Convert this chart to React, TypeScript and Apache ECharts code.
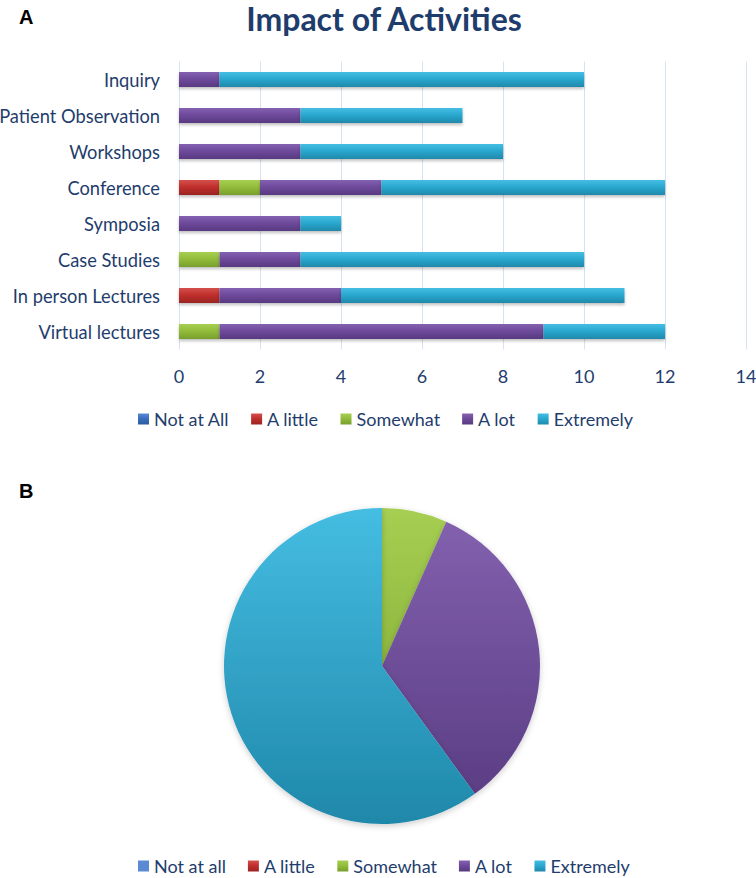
import React, { useEffect, useRef } from "react";
import * as echarts from "echarts";

const categories = [
  "Inquiry",
  "Patient Observation",
  "Workshops",
  "Conference",
  "Symposia",
  "Case Studies",
  "In person Lectures",
  "Virtual lectures",
];
const barSeriesNames = ["Not at All", "A little", "Somewhat", "A lot", "Extremely"];
const notAtAll = [0, 0, 0, 0, 0, 0, 0, 0];
const aLittle = [0, 0, 0, 1, 0, 0, 1, 0];
const somewhat = [0, 0, 0, 1, 0, 1, 0, 1];
const aLot = [1, 3, 3, 3, 3, 2, 3, 8];
const extremely = [9, 4, 5, 7, 1, 7, 7, 3];
const xTicks = [0, 2, 4, 6, 8, 10, 12, 14];

const pieNames = ["Not at all", "A little", "Somewhat", "A lot", "Extremely"];
const pieValues = [0, 0, 2, 10, 18];

const baseColors = ["#3a6fbf", "#c1302d", "#93bd3c", "#6f4a9c", "#2aa9d0"];
const lightColors = ["#5a8ad3", "#d4504c", "#a6cf52", "#8462b0", "#45bde2"];
const darkColors = ["#2c5a9e", "#9a2422", "#779f2c", "#573a80", "#1f88aa"];

const FONT = "Lato";
const TEXT_COLOR = "#1f3d6c";

export default function App() {
  const ref = useRef<HTMLDivElement>(null);
  useEffect(() => {
    if (!ref.current) return;
    const chart = echarts.init(ref.current, undefined, { renderer: "svg" });
    const barData = [notAtAll, aLittle, somewhat, aLot, extremely];
    const barGradient = (i: number) =>
      new echarts.graphic.LinearGradient(0, 0, 0, 1, [
        { offset: 0, color: lightColors[i] },
        { offset: 0.45, color: baseColors[i] },
        { offset: 1, color: darkColors[i] },
      ]);
    const pieGradient = (i: number) =>
      new echarts.graphic.LinearGradient(
        0,
        508,
        0,
        824,
        [
          { offset: 0, color: lightColors[i] },
          { offset: 1, color: darkColors[i] },
        ],
        true
      );
    const barSeries = barSeriesNames.map((name, i) => ({
      name,
      type: "bar",
      stack: "total",
      barWidth: 15,
      data: barData[i],
      itemStyle: {
        color: barGradient(i),
        shadowBlur: 3,
        shadowOffsetY: 2,
        shadowColor: "rgba(0,0,0,0.25)",
      },
      emphasis: { disabled: true },
    }));
    const legendCommon = {
      itemWidth: 11,
      itemHeight: 11,
      itemGap: 22,
      padding: 0,
      icon: "rect",
      textStyle: { fontFamily: FONT, fontSize: 18, color: TEXT_COLOR },
      selectedMode: false,
    };
    chart.setOption({
      animation: false,
      textStyle: { fontFamily: FONT },
      title: {
        text: "Impact of Activities",
        left: 384,
        top: 2,
        padding: 0,
        textAlign: "center",
        textStyle: {
          fontFamily: FONT,
          fontWeight: "bold",
          fontSize: 32,
          lineHeight: 32,
          color: "#1f3d6c",
        },
      },
      graphic: [
        {
          type: "text",
          left: 19,
          top: 7,
          style: {
            text: "A",
            fontSize: 20,
            fontWeight: "bold",
            fontFamily: "Arial, 'Liberation Sans'",
            fill: "#000",
          },
        },
        {
          type: "text",
          left: 19,
          top: 481,
          style: {
            text: "B",
            fontSize: 20,
            fontWeight: "bold",
            fontFamily: "Arial, 'Liberation Sans'",
            fill: "#000",
          },
        },
      ],
      legend: [
        { ...legendCommon, data: barSeriesNames, left: 138, top: 410 },
        { ...legendCommon, data: pieNames, left: 138, top: 857 },
      ],
      color: baseColors,
      grid: {
        left: 179,
        right: 10,
        top: 61.5,
        height: 288,
        containLabel: false,
        outerBoundsMode: "none",
      },
      xAxis: {
        type: "value",
        min: xTicks[0],
        max: xTicks[xTicks.length - 1],
        interval: 2,
        axisLine: { show: false },
        axisTick: { show: false },
        axisLabel: { fontFamily: FONT, fontSize: 18, color: TEXT_COLOR, margin: 17 },
        splitLine: { show: true, lineStyle: { color: "#d5e2f3", width: 1 } },
      },
      yAxis: {
        type: "category",
        data: categories,
        inverse: true,
        axisLine: { show: false },
        axisTick: { show: false },
        axisLabel: { fontFamily: FONT, fontSize: 18.3, color: TEXT_COLOR, margin: 19 },
        splitLine: { show: false },
      },
      series: [
        ...barSeries,
        {
          type: "pie",
          center: [382, 666],
          radius: 158,
          startAngle: 90,
          clockwise: true,
          label: { show: false },
          labelLine: { show: false },
          emphasis: { disabled: true },
          itemStyle: {
            shadowBlur: 6,
            shadowOffsetY: 2,
            shadowColor: "rgba(0,0,0,0.2)",
          },
          data: pieNames.map((name, i) => ({
            name,
            value: pieValues[i],
            itemStyle: { color: pieGradient(i) },
          })),
        },
      ],
    });
    return () => chart.dispose();
  }, []);
  return (
    <div
      ref={ref}
      style={{ position: "absolute", left: 0, top: 0, width: 756, height: 878, background: "#fff" }}
    />
  );
}
